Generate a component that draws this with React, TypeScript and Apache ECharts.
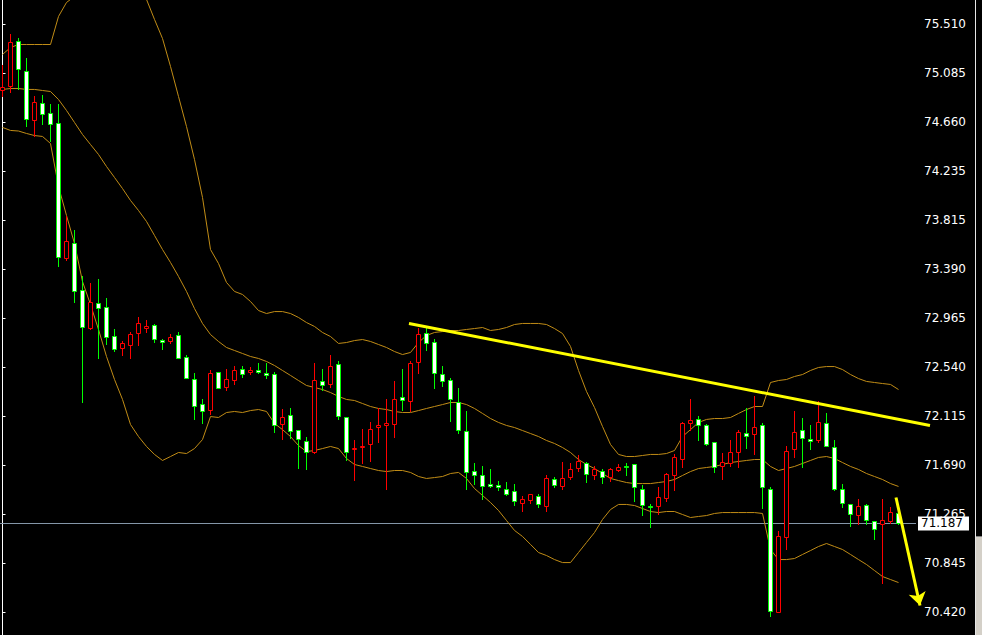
import React, { useEffect, useRef } from 'react';
import * as echarts from 'echarts';

// ---- Candles (MT4 style) ----
const OPEN = [
  74.935, 74.972, 75.365, 75.108, 74.681, 74.828, 74.742, 74.655, 73.483, 73.616,
  73.212, 72.877, 73.097, 73.062, 72.811, 72.704, 72.730, 72.837, 72.877, 72.909,
  72.777, 72.764, 72.820, 72.629, 72.439, 72.222, 72.167, 72.500, 72.366, 72.427,
  72.526, 72.496, 72.511, 72.485, 72.482, 72.049, 72.127, 71.997, 71.902, 71.803,
  72.422, 72.392, 72.569, 72.110, 71.829, 71.847, 71.876, 72.020, 72.041, 72.049,
  72.280, 72.248, 72.586, 72.837, 72.759, 72.482, 72.430, 72.242, 71.991, 71.642,
  71.602, 71.524, 71.518, 71.487, 71.466, 71.362, 71.388, 71.426, 71.339, 71.573,
  71.509, 71.590, 71.668, 71.712, 71.608, 71.642, 71.587, 71.648, 71.688, 71.703,
  71.487, 71.342, 71.336, 71.405, 71.604, 71.743, 72.055, 72.093, 72.035, 71.893,
  71.682, 71.712, 71.803, 71.971, 71.959, 72.041, 71.487, 70.422, 71.071, 71.833,
  71.997, 71.919, 71.907, 72.058, 71.850, 71.481, 71.357, 71.262, 71.348, 71.210,
  71.184, 71.206, 71.279,
];
const HIGH = [
  75.154, 75.420, 75.391, 75.218, 74.889, 74.898, 74.814, 74.814, 73.847, 73.723,
  73.325, 73.270, 73.299, 73.140, 72.874, 72.764, 72.846, 72.976, 72.944, 72.915,
  72.785, 72.825, 72.840, 72.641, 72.493, 72.260, 72.517, 72.500, 72.526, 72.554,
  72.551, 72.543, 72.580, 72.574, 72.500, 72.179, 72.182, 71.997, 71.931, 72.580,
  72.526, 72.641, 72.589, 72.110, 71.905, 72.000, 72.069, 72.184, 72.268, 72.416,
  72.528, 72.591, 72.883, 72.894, 72.785, 72.554, 72.450, 72.355, 72.158, 71.712,
  71.680, 71.654, 71.558, 71.547, 71.524, 71.423, 71.443, 71.443, 71.602, 71.590,
  71.720, 71.712, 71.781, 71.720, 71.686, 71.660, 71.668, 71.703, 71.706, 71.703,
  71.521, 71.351, 71.506, 71.622, 71.792, 72.067, 72.260, 72.113, 72.049, 71.893,
  71.798, 71.905, 71.997, 72.182, 72.286, 72.058, 71.506, 71.123, 71.859, 72.164,
  72.101, 72.043, 72.251, 72.139, 71.905, 71.532, 71.357, 71.394, 71.359, 71.210,
  71.394, 71.333, 71.293,
];
const LOW = [
  74.886, 74.918, 74.944, 74.626, 74.539, 74.641, 74.496, 73.414, 73.466, 73.102,
  72.236, 72.874, 72.615, 72.736, 72.678, 72.643, 72.615, 72.730, 72.846, 72.759,
  72.693, 72.747, 72.621, 72.448, 72.087, 72.052, 72.130, 72.358, 72.340, 72.392,
  72.453, 72.479, 72.485, 72.444, 71.977, 71.919, 71.928, 71.668, 71.654, 71.798,
  72.346, 72.366, 72.093, 71.734, 71.567, 71.712, 71.726, 71.890, 71.481, 71.937,
  72.167, 72.158, 72.491, 72.687, 72.358, 72.375, 72.072, 71.971, 71.483, 71.532,
  71.400, 71.504, 71.474, 71.429, 71.345, 71.293, 71.362, 71.327, 71.293, 71.504,
  71.487, 71.573, 71.639, 71.547, 71.573, 71.539, 71.558, 71.639, 71.610, 71.379,
  71.258, 71.154, 71.270, 71.379, 71.474, 71.674, 71.999, 71.905, 71.864, 71.630,
  71.573, 71.682, 71.677, 71.838, 71.792, 71.319, 70.384, 70.422, 70.964, 71.760,
  71.677, 71.833, 71.896, 71.859, 71.474, 71.327, 71.163, 71.186, 71.186, 71.056,
  70.673, 71.192, 71.178,
];
const CLOSE = [
  74.961, 75.356, 75.123, 74.690, 74.837, 74.733, 74.647, 73.495, 73.628, 73.201,
  72.889, 73.106, 73.054, 72.803, 72.699, 72.745, 72.831, 72.918, 72.900, 72.785,
  72.756, 72.803, 72.621, 72.448, 72.202, 72.162, 72.491, 72.358, 72.439, 72.517,
  72.479, 72.511, 72.496, 72.468, 72.041, 72.110, 71.991, 71.919, 71.801, 72.430,
  72.387, 72.551, 72.115, 71.807, 71.844, 71.861, 72.006, 72.035, 72.058, 72.266,
  72.254, 72.580, 72.831, 72.751, 72.491, 72.422, 72.260, 71.999, 71.634, 71.604,
  71.513, 71.509, 71.504, 71.443, 71.379, 71.400, 71.443, 71.357, 71.582, 71.518,
  71.582, 71.660, 71.723, 71.619, 71.654, 71.587, 71.662, 71.677, 71.682, 71.504,
  71.345, 71.327, 71.417, 71.616, 71.764, 72.052, 72.078, 72.041, 71.873, 71.677,
  71.720, 71.801, 71.980, 71.942, 72.023, 71.504, 70.430, 71.080, 71.816, 71.980,
  71.925, 71.902, 72.069, 71.859, 71.489, 71.365, 71.270, 71.342, 71.218, 71.140,
  71.218, 71.287, 71.187,
];

// ---- Bollinger Bands ----
const BB_UPPER = [
  75.247, 75.307, 75.333, 75.333, 75.333, 75.333, 75.333, 75.576, 75.697, 75.749,
  75.827, 75.853, 75.896, 75.922, 75.930, 75.913, 75.905, 75.827, 75.723, 75.550,
  75.385, 75.143, 74.883, 74.623, 74.337, 74.009, 73.558, 73.437, 73.273, 73.195,
  73.169, 73.108, 73.030, 73.004, 73.021, 73.021, 73.004, 72.970, 72.926, 72.892,
  72.840, 72.805, 72.745, 72.753, 72.770, 72.779, 72.762, 72.736, 72.710, 72.675,
  72.649, 72.667, 72.753, 72.814, 72.840, 72.848, 72.857, 72.857, 72.866, 72.874,
  72.883, 72.857, 72.866, 72.883, 72.909, 72.918, 72.918, 72.918, 72.909, 72.874,
  72.831, 72.719, 72.511, 72.329, 72.190, 72.026, 71.870, 71.784, 71.766, 71.766,
  71.775, 71.784, 71.784, 71.792, 71.818, 71.939, 71.999, 72.061, 72.087, 72.095,
  72.095, 72.104, 72.139, 72.173, 72.199, 72.199, 72.407, 72.424, 72.433, 72.459,
  72.476, 72.511, 72.537, 72.545, 72.545, 72.519, 72.476, 72.441, 72.416, 72.407,
  72.398, 72.390, 72.346,
];
const BB_MIDDLE = [
  74.944, 74.952, 74.952, 74.944, 74.944, 74.935, 74.926, 74.857, 74.762, 74.658,
  74.554, 74.467, 74.381, 74.277, 74.182, 74.086, 73.983, 73.896, 73.801, 73.680,
  73.558, 73.446, 73.325, 73.195, 73.047, 72.918, 72.822, 72.762, 72.710, 72.684,
  72.658, 72.632, 72.615, 72.589, 72.554, 72.511, 72.468, 72.424, 72.381, 72.364,
  72.346, 72.320, 72.286, 72.260, 72.251, 72.225, 72.199, 72.182, 72.173, 72.156,
  72.147, 72.147, 72.164, 72.182, 72.199, 72.216, 72.234, 72.234, 72.216, 72.182,
  72.139, 72.095, 72.061, 72.035, 72.017, 71.991, 71.965, 71.939, 71.905, 71.879,
  71.844, 71.801, 71.740, 71.697, 71.662, 71.619, 71.576, 71.558, 71.541, 71.532,
  71.532, 71.532, 71.541, 71.550, 71.567, 71.602, 71.636, 71.662, 71.671, 71.680,
  71.697, 71.714, 71.723, 71.732, 71.740, 71.740, 71.680, 71.645, 71.662, 71.680,
  71.706, 71.732, 71.758, 71.766, 71.749, 71.714, 71.680, 71.654, 71.619, 71.593,
  71.567, 71.532, 71.507,
];
const BB_LOWER = [
  74.615, 74.589, 74.584, 74.563, 74.545, 74.537, 74.476, 74.104, 73.853, 73.610,
  73.281, 73.082, 72.866, 72.632, 72.433, 72.260, 72.043, 71.939, 71.853, 71.784,
  71.732, 71.766, 71.801, 71.792, 71.835, 71.913, 72.112, 72.104, 72.147, 72.156,
  72.147, 72.164, 72.173, 72.156, 72.052, 71.999, 71.939, 71.861, 71.809, 71.818,
  71.835, 71.853, 71.835, 71.749, 71.697, 71.680, 71.662, 71.645, 71.636, 71.645,
  71.645, 71.628, 71.593, 71.576, 71.584, 71.593, 71.619, 71.628, 71.576, 71.489,
  71.429, 71.368, 71.299, 71.212, 71.126, 71.074, 71.005, 70.935, 70.909, 70.874,
  70.848, 70.848, 70.935, 71.022, 71.108, 71.221, 71.307, 71.351, 71.351, 71.342,
  71.316, 71.290, 71.281, 71.290, 71.290, 71.264, 71.238, 71.247, 71.255, 71.273,
  71.281, 71.281, 71.281, 71.281, 71.281, 71.273, 70.961, 70.874, 70.874, 70.883,
  70.918, 70.952, 70.987, 71.013, 70.987, 70.961, 70.918, 70.874, 70.831, 70.779,
  70.727, 70.701, 70.675,
];

// ---- Price scale tick labels (bottom to top) ----
const Y_LABELS = [
  '70.420', '70.845', '71.265', '71.690', '72.115', '72.540', '72.965',
  '73.390', '73.815', '74.235', '74.660', '75.085', '75.510',
];
const LAST_PRICE = 71.187;
// hand-drawn annotations, as [barIndex, price]
const TREND_LINE = [[50.8125, 72.918], [115.9375, 72.035]];
const DOWN_ARROW = [[111.6875, 71.411], [114.6875, 70.476]];

const STEP = 70.42 / 166; // price-scale tick spacing
const FIRST_TICK = 166;
const X_MIN = -0.3125;
const X_MAX = 114.1875;

const FONT = 'DejaVu Sans';
// the chart canvas is taller than the page and shifted up so that the
// price scale's own tick grid (a multiple of STEP at both ends) fills it
const SHIFT = 25;
const CANVAS_H = 686;
const PRICE_LINE_COLOR = '#8496a8';

export default function App() {
  const ref = useRef<HTMLDivElement>(null);

  useEffect(() => {
    if (!ref.current) return;
    const chart = echarts.init(ref.current, null, { renderer: 'svg' });

    const candleData = OPEN.map((o, i) => [i, o, CLOSE[i], LOW[i], HIGH[i]]);
    const band = (arr: number[]) => arr.map((v, i) => [i, v]);
    const bandColor = '#c08c16';

    const bandSeries = (arr: number[]) => ({
      type: 'line',
      data: band(arr),
      showSymbol: false,
      symbol: 'none',
      silent: true,
      lineStyle: { color: bandColor, width: 1 },
      z: 1,
    });

    const option: any = {
      animation: false,
      backgroundColor: '#000000',
      grid: { left: 0, right: 66, top: 0, bottom: 0, containLabel: false },
      xAxis: {
        type: 'value',
        min: X_MIN,
        max: X_MAX,
        show: false,
      },
      yAxis: {
        type: 'value',
        position: 'right',
        min: STEP * 165,
        max: STEP * 179,
        interval: STEP,
        axisLine: { show: true, lineStyle: { color: '#ffffff', width: 1 } },
        axisTick: { show: true, inside: false, length: 3, lineStyle: { color: '#ffffff' } },
        splitLine: { show: false },
        axisLabel: {
          color: '#ffffff',
          fontFamily: FONT,
          fontSize: 12,
          margin: 8,
          formatter: (v: number) => {
            const idx = Math.round(v / STEP) - FIRST_TICK;
            return Y_LABELS[idx] ?? '';
          },
        },
      },
      series: [
        bandSeries(BB_UPPER),
        bandSeries(BB_MIDDLE),
        bandSeries(BB_LOWER),
        {
          type: 'lines',
          coordinateSystem: 'cartesian2d',
          clip: false,
          silent: true,
          z: 1,
          symbol: ['none', 'none'],
          lineStyle: { color: PRICE_LINE_COLOR, width: 1, opacity: 1, curveness: 0 },
          label: {
            show: true,
            position: 'end',
            distance: 2,
            formatter: LAST_PRICE.toFixed(3),
            backgroundColor: '#ffffff',
            color: '#000000',
            fontFamily: FONT,
            fontSize: 12,
            padding: [1, 6, 1, 3],
          },
          data: [{ coords: [[X_MIN, LAST_PRICE], [X_MAX, LAST_PRICE]] }],
        },
        {
          type: 'custom',
          silent: true,
          clip: false,
          z: 2,
          encode: { x: 0, y: [1, 2, 3, 4] },
          data: candleData,
          renderItem: (params: any, api: any) => {
            const i = api.value(0);
            const o = api.value(1);
            const c = api.value(2);
            const lo = api.value(3);
            const hi = api.value(4);
            const pO = api.coord([i, o]);
            const pC = api.coord([i, c]);
            const pL = api.coord([i, lo]);
            const pH = api.coord([i, hi]);
            const cx = Math.floor(pO[0]) + 0.5;
            const up = c > o;
            const col = up ? '#ff0000' : '#00ff00';
            const fill = up ? '#000000' : '#ffffff';
            const top = Math.round(Math.min(pO[1], pC[1]));
            let bot = Math.round(Math.max(pO[1], pC[1]));
            if (bot - top < 1) bot = top + 1;
            const yH = Math.round(pH[1]);
            const yL = Math.round(pL[1]);
            return {
              type: 'group',
              children: [
                {
                  type: 'line',
                  shape: { x1: cx, y1: yH, x2: cx, y2: yL + 1 },
                  style: { stroke: col, lineWidth: 1 },
                },
                {
                  type: 'rect',
                  shape: { x: cx - 2, y: top + 0.5, width: 4, height: bot - top },
                  style: { fill, stroke: col, lineWidth: 1 },
                },
              ],
            };
          },
        },
        {
          type: 'lines',
          coordinateSystem: 'cartesian2d',
          clip: false,
          silent: true,
          z: 5,
          symbol: ['none', 'none'],
          lineStyle: { color: '#ffff00', width: 3, opacity: 1, curveness: 0 },
          data: [{ coords: TREND_LINE }],
        },
        {
          type: 'lines',
          coordinateSystem: 'cartesian2d',
          clip: false,
          silent: true,
          z: 5,
          symbol: ['none', 'arrow'],
          symbolSize: 13,
          lineStyle: { color: '#ffff00', width: 3, opacity: 1, curveness: 0 },
          data: [{ coords: DOWN_ARROW }],
        },
      ],
      graphic: [
        {
          type: 'line',
          silent: true,
          shape: { x1: 975.5, y1: SHIFT, x2: 975.5, y2: SHIFT + 635 },
          style: { stroke: '#e6e6e6', lineWidth: 1 },
        },
        {
          type: 'rect',
          silent: true,
          shape: { x: 976, y: SHIFT + 536, width: 6, height: 99 },
          style: { fill: '#d4d0c8' },
        },
        {
          type: 'line',
          silent: true,
          shape: { x1: 976, y1: SHIFT + 536.5, x2: 982, y2: SHIFT + 536.5 },
          style: { stroke: '#808080', lineWidth: 1 },
        },
      ],
    };

    chart.setOption(option);
    return () => chart.dispose();
  }, []);

  return (
    <div
      ref={ref}
      style={{
        position: 'fixed',
        left: 0,
        top: -SHIFT,
        width: 982,
        height: CANVAS_H,
        background: '#000',
      }}
    />
  );
}
